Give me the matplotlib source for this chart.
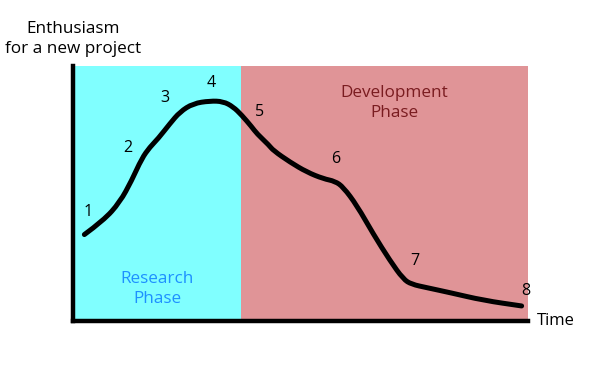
import matplotlib
matplotlib.use("Agg")
import matplotlib.pyplot as plt
from matplotlib.path import Path
from matplotlib.patches import PathPatch

plt.rcParams['font.family'] = ['Open Sans', 'DejaVu Sans']

# curve (time %, enthusiasm %)
curve_x = [2.5, 6.7, 10.3, 12.9, 15.1, 16.9, 18.7, 21.3, 23.5, 26.4, 30.1, 33.0,
           35.2, 37.1, 39.3, 40.4, 43.1, 44.0, 47.7, 51.4, 55.0, 57.6, 59.4, 62.4,
           66.0, 69.7, 72.6, 74.4, 77.7, 82.9, 90.2, 98.6]
curve_y = [33.9, 39.4, 46.6, 55.1, 63.7, 68.2, 71.5, 77.4, 82.0, 85.3, 86.3, 86.1,
           84.0, 80.7, 76.1, 73.5, 68.9, 66.9, 62.3, 58.4, 55.8, 54.8, 52.5, 45.3,
           34.1, 23.6, 16.4, 14.4, 13.1, 11.1, 8.1, 5.9]

label_text = ['1', '2', '3', '4', '5', '6', '7', '8']
label_x = [3.3, 12.1, 20.2, 30.3, 40.9, 57.8, 75.2, 99.6]
label_y = [42.9, 67.7, 87.4, 93.3, 81.9, 63.4, 23.6, 11.8]

phase_names = ['Research\nPhase', 'Development\nPhase']
phase_start = [0, 36.9]
phase_end = [36.9, 100]
phase_colors = ['#80FFFF', '#E09497']
phase_text_colors = ['#1E90FF', '#7A1C20']
phase_text_x = [18.5, 70.6]
phase_text_y = [12.5, 85.5]

fig = plt.figure(figsize=(6.0, 3.86), dpi=100)
ax = fig.add_axes([73/600, (386-321)/386, 455/600, 255/386])
ax.set_xlim(0, 100)
ax.set_ylim(0, 100)

for s, e, c, name, tc, tx, ty in zip(phase_start, phase_end, phase_colors,
                                    phase_names, phase_text_colors,
                                    phase_text_x, phase_text_y):
    ax.axvspan(s, e, color=c, lw=0, zorder=0)
    ax.text(tx, ty, name, color=tc, ha='center', va='center', fontsize=12.3,
            linespacing=1.32)

# smooth path: read points used as quadratic Bezier control points
pts = list(zip(curve_x, curve_y))
verts = [pts[0]]
codes = [Path.MOVETO]
for i in range(1, len(pts) - 1):
    mid = ((pts[i][0] + pts[i + 1][0]) / 2, (pts[i][1] + pts[i + 1][1]) / 2)
    verts += [pts[i], mid]
    codes += [Path.CURVE3, Path.CURVE3]
verts.append(pts[-1])
codes.append(Path.LINETO)
ax.add_patch(PathPatch(Path(verts, codes), facecolor='none', edgecolor='black',
                       lw=3.6, capstyle='round', joinstyle='round', zorder=3))

for t, x, y in zip(label_text, label_x, label_y):
    ax.text(x, y, t, ha='center', va='center', fontsize=11.5, color='black',
            clip_on=False)

for side in ['top', 'right']:
    ax.spines[side].set_visible(False)
for side in ['left', 'bottom']:
    ax.spines[side].set_linewidth(3.2)
ax.set_xticks([])
ax.set_yticks([])

fig.text(73/600, 1 - 39/386, 'Enthusiasm\nfor a new project', ha='center',
         va='center', fontsize=12.3, linespacing=1.38)
fig.text(537/600, 1 - 321/386, 'Time', ha='left', va='center', fontsize=12)

fig.savefig('out.png', dpi=100)
